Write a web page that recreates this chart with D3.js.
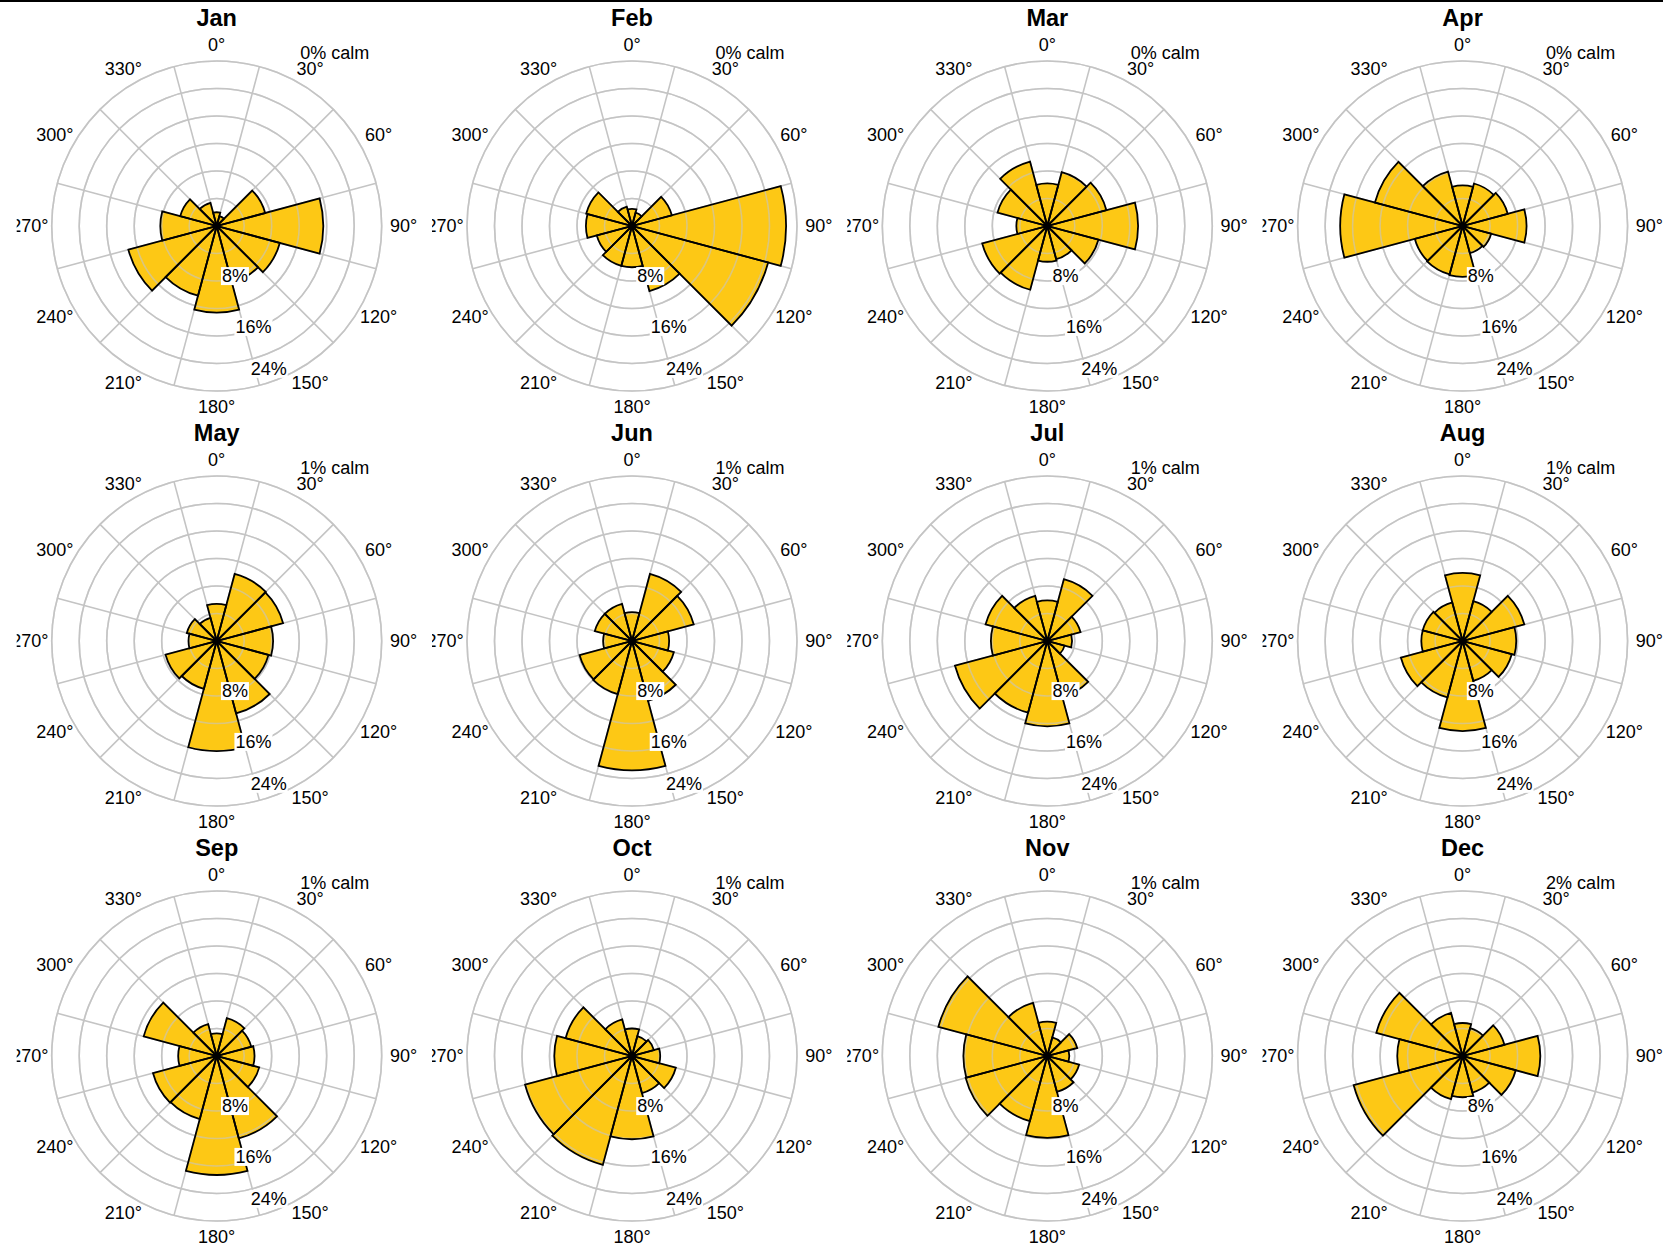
<!DOCTYPE html>
<html>
<head>
<meta charset="utf-8">
<script src="https://cdn.jsdelivr.net/npm/d3@7"></script>
<style>
  html, body { margin: 0; padding: 0; background: #ffffff; }
  svg { display: block; font-family: "Liberation Sans", Arial, Helvetica, sans-serif; }
</style>
</head>
<body>
<svg id="chart" width="1663" height="1247"></svg>
<script>
// Monthly wind roses: frequency (%) of wind from each 30-degree sector.
const months = ["Jan", "Feb", "Mar", "Apr", "May", "Jun", "Jul", "Aug", "Sep", "Oct", "Nov", "Dec"];
const directions = [0, 30, 60, 90, 120, 150, 180, 210, 240, 270, 300, 330];

const janFreq = [2.0, 1.5, 7.3, 15.5, 9.5, 8.5, 12.6, 10.5, 13.3, 8.2, 5.5, 3.5];
const febFreq = [2.5, 2.0, 6.0, 22.4, 20.5, 9.8, 6.0, 6.0, 5.3, 6.7, 6.9, 2.9];
const marFreq = [6.2, 8.1, 8.9, 13.2, 7.7, 5.0, 5.2, 9.6, 9.8, 4.5, 7.5, 9.7];
const aprFreq = [5.9, 6.4, 6.8, 9.3, 4.3, 4.1, 7.4, 7.3, 7.2, 17.8, 13.2, 8.2];
const mayFreq = [5.4, 10.1, 10.0, 8.2, 7.8, 10.9, 16.0, 7.2, 7.7, 4.1, 4.5, 3.5];
const junFreq = [4.2, 10.1, 9.3, 5.4, 6.3, 9.0, 18.8, 8.0, 7.9, 4.2, 5.6, 5.6];
const julFreq = [5.9, 9.3, 5.0, 3.6, 2.6, 8.4, 12.4, 10.8, 13.9, 8.2, 9.3, 6.8];
const augFreq = [9.9, 6.0, 9.3, 7.8, 7.4, 6.0, 13.1, 8.5, 9.3, 6.0, 6.0, 5.8];
const sepFreq = [3.3, 5.7, 5.2, 5.5, 6.4, 12.4, 17.3, 9.5, 9.6, 5.6, 11.0, 4.8];
const octFreq = [4.0, 3.0, 3.3, 4.1, 6.6, 5.6, 12.1, 16.4, 16.1, 11.3, 10.0, 5.5];
const novFreq = [5.0, 2.8, 4.5, 3.2, 4.8, 5.4, 11.9, 9.8, 12.3, 12.2, 16.4, 8.0];
const decFreq = [4.8, 4.2, 6.3, 11.3, 8.0, 5.5, 6.0, 6.5, 16.4, 9.5, 13.0, 6.5];

const calmPct = [0, 0, 0, 0, 1, 1, 1, 1, 1, 1, 1, 2];

const ringTicks = [4, 8, 12, 16, 20, 24];
const pctLabelTicks = [8, 16, 24];
const degreeTicks = directions;

const monthlyFreq = [janFreq, febFreq, marFreq, aprFreq, mayFreq, junFreq,
                     julFreq, augFreq, sepFreq, octFreq, novFreq, decFreq];

// ---- layout ----
const W = 1663, H = 1247;
const nCols = 4;
const panelW = 415.3, panelH = 415;
const cx0 = 216.7, cy0 = 226;
const outerR = 165;
const sectorHalf = 15;
const fillColor = "#fdc815";
const gridColor = "#c4c4c4";
const pctLabelBearing = 160;
const pctLabelRadius = [53.3, 107.4, 152];
const degreeLabelR = 185;
const labelSize = 18;

const svg = d3.select("#chart");
svg.append("rect").attr("x", 0).attr("y", 0).attr("width", W).attr("height", H).attr("fill", "#ffffff");

const r = d3.scaleLinear().domain([0, 24]).range([0, outerR]);
const toRad = d => d * Math.PI / 180;

const wedge = d3.arc()
  .innerRadius(0)
  .outerRadius(d => r(d.value))
  .startAngle(d => toRad(d.dir - sectorHalf))
  .endAngle(d => toRad(d.dir + sectorHalf));

const defs = svg.append("defs");

months.forEach((name, i) => {
  const col = i % nCols, row = Math.floor(i / nCols);
  const cx = cx0 + col * panelW;
  const cy = cy0 + row * panelH;

  // each panel is clipped to its own cell
  defs.append("clipPath").attr("id", "clip" + i)
    .append("rect")
    .attr("x", cx - 200).attr("y", cy - 224)
    .attr("width", panelW).attr("height", panelH);

  const outer = svg.append("g").attr("clip-path", "url(#clip" + i + ")");
  const g = outer.append("g").attr("transform", `translate(${cx},${cy})`);

  const data = directions.map((dir, k) => ({ dir, value: monthlyFreq[i][k] }));

  // grid circles
  g.append("g").selectAll("circle").data(ringTicks).join("circle")
    .attr("r", d => r(d)).attr("fill", "none")
    .attr("stroke", gridColor).attr("stroke-width", 1.6);

  // radial spokes along sector edges
  g.append("g").selectAll("line").data(directions).join("line")
    .attr("x1", 0).attr("y1", 0)
    .attr("x2", d => r(24) * Math.sin(toRad(d + sectorHalf)))
    .attr("y2", d => -r(24) * Math.cos(toRad(d + sectorHalf)))
    .attr("stroke", gridColor).attr("stroke-width", 1.6);

  // sector fills
  g.append("g").selectAll("path").data(data).join("path")
    .attr("d", wedge).attr("fill", fillColor).attr("stroke", "none");

  // grid circles showing through the sectors
  g.append("g").selectAll("circle").data(ringTicks).join("circle")
    .attr("r", d => r(d)).attr("fill", "none")
    .attr("stroke", gridColor).attr("stroke-opacity", 0.6).attr("stroke-width", 1.6);

  // sector outlines
  g.append("g").selectAll("path").data(data).join("path")
    .attr("d", wedge).attr("fill", "none")
    .attr("stroke", "#000").attr("stroke-width", 1.8).attr("stroke-linejoin", "miter");

  // percentage labels on white boxes
  const pl = g.append("g");
  pctLabelTicks.forEach((t, k) => {
    const rr = pctLabelRadius[k];
    const x = rr * Math.sin(toRad(pctLabelBearing));
    const y = -rr * Math.cos(toRad(pctLabelBearing));
    const lg = pl.append("g");
    const txt = lg.append("text")
      .attr("x", x).attr("y", y)
      .attr("text-anchor", "middle").attr("dominant-baseline", "central")
      .attr("font-size", labelSize).attr("fill", "#000")
      .text(t + "%");
    const bb = txt.node().getBBox();
    lg.insert("rect", "text")
      .attr("x", bb.x - 1).attr("y", bb.y + 1)
      .attr("width", bb.width + 2).attr("height", bb.height - 2)
      .attr("fill", "#fff");
  });

  // compass degree labels
  g.append("g").selectAll("text").data(degreeTicks).join("text")
    .attr("x", d => degreeLabelR * Math.sin(toRad(d)) * 1.01)
    .attr("y", d => -degreeLabelR * Math.cos(toRad(d)) * 0.98)
    .attr("text-anchor", "middle").attr("dominant-baseline", "central")
    .attr("font-size", labelSize).attr("fill", "#000")
    .text(d => d + "°");

  // calm percentage
  g.append("text")
    .attr("x", 83.5).attr("y", -173.5)
    .attr("text-anchor", "start").attr("dominant-baseline", "central")
    .attr("font-size", labelSize).attr("fill", "#000")
    .text(calmPct[i] + "% calm");

  // month title
  g.append("text")
    .attr("x", 0).attr("y", -208)
    .attr("text-anchor", "middle").attr("dominant-baseline", "central")
    .attr("font-size", 23.5).attr("font-weight", "bold").attr("fill", "#000")
    .text(name);
});

// top frame line
svg.append("rect").attr("x", 0).attr("y", 0).attr("width", W).attr("height", 2).attr("fill", "#000");
</script>
</body>
</html>
